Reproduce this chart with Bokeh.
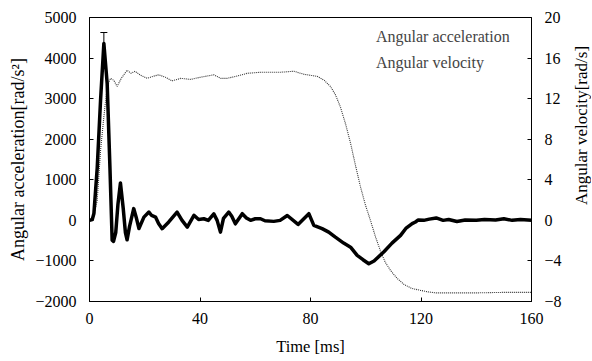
from bokeh.plotting import figure
from bokeh.layouts import row
from bokeh.models import (Range1d, LinearAxis, FixedTicker, Legend, LegendItem,
                          ColumnDataSource, Whisker, TeeHead)
from bokeh.embed import file_html
from bokeh.resources import INLINE

# ---- data ----
acc_t = [0, 1.0, 1.6, 2.8, 4.0, 5.2, 6.4, 7.4, 8.2, 8.7, 9.5, 10.3, 11.2, 12.2, 13.0,
         13.6, 14.5, 16.0, 17.0, 17.9, 19.7, 21.5, 22.5, 23.9, 25.0, 26.3, 28.7, 31.7,
         33.5, 35.4, 37.8, 39.5, 41.4, 43.0, 45.0, 46.2, 47.4, 48.5, 50.4, 51.5, 52.8,
         55.3, 56.8, 58.3, 60.0, 61.9, 63.5, 66.7, 69.0, 71.6, 75.5, 79.4, 81.2, 84.2,
         86.6, 89.0, 92.0, 94.5, 96.9, 99.0, 101.1, 103.0, 106.5, 109.5, 112.6, 114.5,
         116.8, 118.0, 119.0, 121.0, 123.0, 125.5, 128.0, 130.0, 133.0, 136.0, 140.0,
         143.0, 147.0, 150.0, 153.0, 156.0, 160.0]
acc = [0, 20, 170, 1300, 2960, 4360, 3370, 1300, -490, -520, -300, 400, 920, 300, -300,
       -480, -150, 290, 50, -200, 80, 205, 120, 80, -80, -205, -40, 205,
       0, -165, 125, 20, 40, 0, 160, 0, -290, 50, 205, 100, -85,
       165, 60, 0, 40, 40, -10, -25, 0, 120, -100, 165, -125, -205,
       -290, -415, -560, -660, -865, -970, -1070, -1000, -780, -560, -370, -200,
       -80, -40, 10, 0, 30, 60, 0, 20, -30, 10, 0,
       20, 10, 40, 0, 20, 0]

vel_t = [0, 1.5, 2.8, 4.0, 5.2, 6.4, 7.6, 8.8, 10.0, 11.5, 13.6, 15.0, 16.5, 18.5, 20.9,
         23.0, 25.1, 27.5, 29.9, 33.0, 36.6, 40.0, 45.0, 47.5, 49.8, 53.0, 57.1, 62.0,
         69.0, 74.0, 77.6, 82.4, 85.0, 87.2, 89.0, 90.8, 92.7, 94.5, 96.3, 98.1, 99.9,
         101.7, 103.5, 105.3, 107.0, 109.0, 111.3, 113.8, 116.5, 119.8, 122.5, 125.5,
         140.0, 150.0, 160.0]
vel = [0, 0.3, 2.0, 6.9, 10.2, 13.2, 14.0, 13.8, 13.2, 14.0, 14.8, 14.5, 14.7, 14.3, 14.0,
       14.2, 14.35, 14.1, 13.75, 14.0, 13.9, 14.1, 14.35, 14.0, 14.0, 14.2, 14.5, 14.6,
       14.6, 14.7, 14.4, 14.2, 13.8, 13.2, 12.4, 11.2, 9.5, 7.6, 5.4, 3.3, 1.5,
       0, -1.6, -3.0, -4.1, -4.95, -5.7, -6.3, -6.7, -6.9, -7.05, -7.15,
       -7.15, -7.1, -7.1]

peak_t = [5.2]
peak_lo = [4360]
peak_hi = [4630]

x_ticks = [0, 40, 80, 120, 160]
acc_ticks = [-2000, -1000, 0, 1000, 2000, 3000, 4000, 5000]
vel_ticks = [-8, -4, 0, 4, 8, 12, 16, 20]

FONT = "Liberation Serif"

p = figure(frame_width=442, frame_height=284, output_backend="svg",
           toolbar_location=None, x_range=Range1d(0, 160), y_range=Range1d(-2000, 5000),
           min_border_left=89, min_border_top=17, min_border_bottom=60, min_border_right=37)
p.extra_y_ranges = {"vel": Range1d(-8, 20)}
p.background_fill_color = "white"
p.border_fill_color = "white"
p.outline_line_color = "black"
p.outline_line_width = 1
p.xgrid.visible = False
p.ygrid.visible = False

def style_axis(ax, label_size):
    ax.axis_line_color = "black"
    ax.axis_line_width = 1
    ax.major_tick_in = 4
    ax.major_tick_out = 0
    ax.minor_tick_in = 0
    ax.minor_tick_out = 0
    ax.major_tick_line_color = "black"
    ax.major_label_text_font = FONT
    ax.major_label_text_font_size = "16px"
    ax.major_label_text_color = "black"
    ax.axis_label_text_font = FONT
    ax.axis_label_text_font_size = label_size
    ax.axis_label_text_font_style = "normal"
    ax.axis_label_text_color = "black"

xa = p.xaxis[0]
xa.ticker = FixedTicker(ticks=x_ticks)
xa.axis_label = "Time [ms]"
style_axis(xa, "16.5px")
xa.major_label_standoff = 11
xa.axis_label_standoff = 10

ya = p.yaxis[0]
ya.ticker = FixedTicker(ticks=acc_ticks)
ya.axis_label = "Angular acceleration[rad/s²]"
style_axis(ya, "18px")
ya.major_label_standoff = 13
ya.axis_label_standoff = 4

ra = LinearAxis(y_range_name="vel", ticker=FixedTicker(ticks=vel_ticks))
style_axis(ra, "18px")
ra.major_label_standoff = 13
p.add_layout(ra, "right")

# velocity (thin dotted), acceleration (thick)
p.line(vel_t, vel, y_range_name="vel", line_color="#333333", line_width=1.1,
       line_dash="1 1")
p.line(acc_t, acc, line_color="black", line_width=3.5, line_join="round")

src = ColumnDataSource(dict(t=peak_t, lo=peak_lo, hi=peak_hi))
p.add_layout(Whisker(source=src, base="t", lower="lo", upper="hi", line_width=1,
                     upper_head=TeeHead(size=7, line_width=1), lower_head=None))

# legend markers
r_acc = p.scatter(x=[], y=[], size=4, color="black")
r_vel = p.scatter(x=[], y=[], size=3, color="#bbbbbb")
leg = Legend(items=[LegendItem(label="Angular acceleration", renderers=[r_acc]),
                    LegendItem(label="Angular velocity", renderers=[r_vel])],
             location=(275, 225), padding=0, margin=0, spacing=0,
             glyph_width=8, glyph_height=26, label_height=26, label_standoff=4,
             label_text_font=FONT, label_text_font_size="16px",
             border_line_color=None, background_fill_alpha=0)
p.add_layout(leg)

# narrow companion panel carrying the right-hand axis title (reads bottom-to-top)
p2 = figure(frame_width=1, frame_height=216, output_backend="svg", toolbar_location=None,
            x_range=Range1d(0, 1), y_range=Range1d(0, 1),
            min_border_left=0, min_border_right=0, min_border_top=17, min_border_bottom=128)
p2.xaxis.visible = False
p2.xgrid.visible = False
p2.ygrid.visible = False
p2.outline_line_color = None
p2.background_fill_color = "white"
p2.border_fill_color = "white"
la = p2.yaxis[0]
la.ticker = FixedTicker(ticks=[])
la.axis_line_color = None
la.major_tick_line_color = None
la.minor_tick_line_color = None
la.major_label_text_font_size = "0px"
la.major_label_standoff = 0
la.axis_label = "Angular velocity[rad/s]"
la.axis_label_text_font = FONT
la.axis_label_text_font_size = "17px"
la.axis_label_text_font_style = "normal"
la.axis_label_text_color = "black"
la.axis_label_standoff = 0

layout = row(p, p2, spacing=0)
open("out.html", "w").write(file_html(layout, INLINE))
